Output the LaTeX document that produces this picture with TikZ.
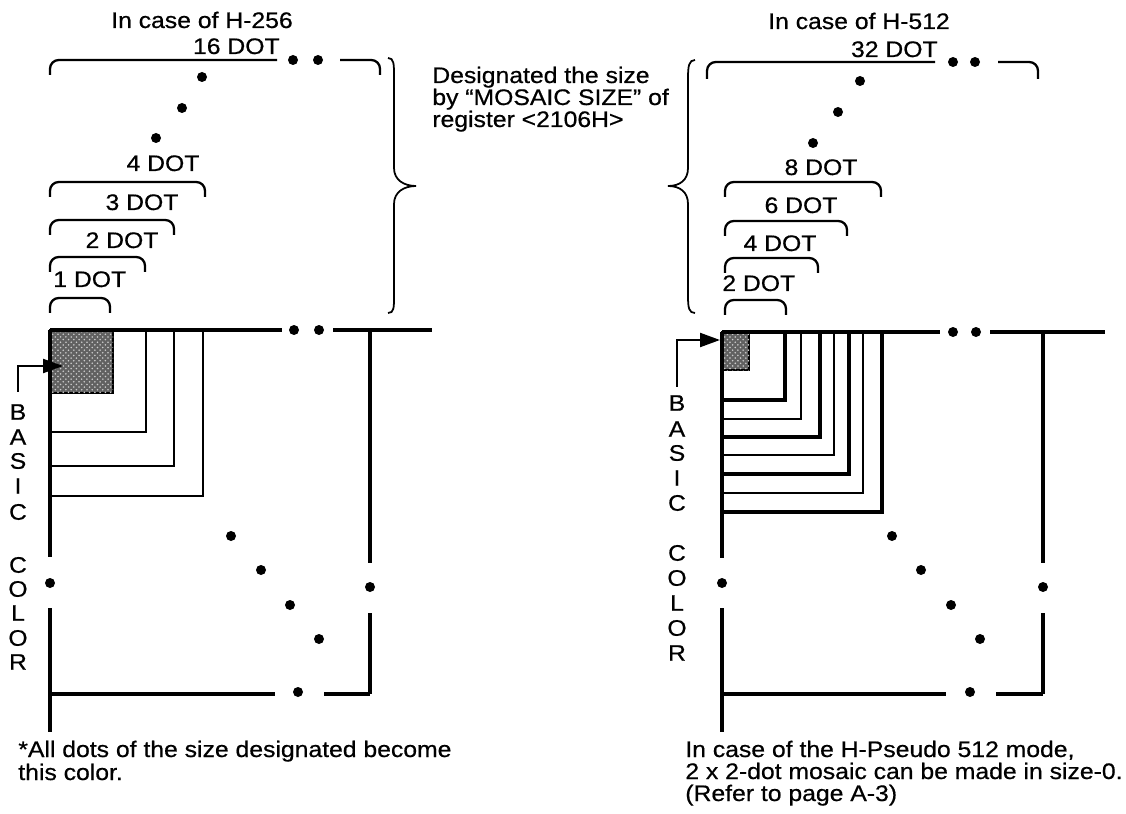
\documentclass[tikz,border=0pt]{standalone}
\usepackage{fontspec}
\setmainfont{Liberation Sans}[FakeStretch=1.1,FakeBold=0.6]
\usetikzlibrary{arrows.meta,calc,patterns}
\begin{document}
\begin{tikzpicture}[x=0.02cm,y=-0.02cm,
  main/.style={line width=2.1pt},
  thickl/.style={line width=1.8pt},
  thinl/.style={line width=1.2pt},
  brk/.style={line width=1.3pt, rounded corners=5pt},
  brc/.style={line width=1.0pt},
  lbl/.style={inner sep=0pt, font=\fontsize{12.8}{12.8}\selectfont},
  vlet/.style={inner sep=0pt, anchor=center, font=\fontsize{12.8}{12.8}\selectfont},
  arr/.style={line width=1.3pt, -{Triangle[length=0.4cm,width=0.28cm]}},
  shade/.style={fill=black!62, line width=1.3pt}]
\useasboundingbox (0,0) rectangle (1126,814);

% ================= LEFT PANEL =================
\node[lbl, anchor=base] (tL) at (202,28) {In case of H-256};
\node[lbl, anchor=base east] (d16) at (280,54) {16 DOT};
\node[lbl, anchor=base] (d4) at (163,171) {4 DOT};
\node[lbl, anchor=base] (d3) at (142,210) {3 DOT};
\node[lbl, anchor=base] (d2) at (122,248) {2 DOT};
\node[lbl, anchor=base west] (d1) at (53,287) {1 DOT};

% brackets
\draw[brk] (50,75) -- (50,60) -- (277,60);
\draw[brk] (340,60) -- (380,60) -- (380,75);
\fill (293,60) circle[radius=5];
\fill (318,60) circle[radius=5];
\fill (202,77) circle[radius=5];
\fill (182,108) circle[radius=5];
\fill (156,138) circle[radius=5];
\draw[brk] (50,197) -- (50,182) -- (205,182) -- (205,197);
\draw[brk] (50,235) -- (50,220) -- (174,220) -- (174,235);
\draw[brk] (50,272) -- (50,257) -- (145,257) -- (145,272);
\draw[brk] (50,313) -- (50,298) -- (110,298) -- (110,313);

% brace pointing right
\draw[brc] (388,58) .. controls (394,58) and (394,64) .. (394,76) -- (394,168)
  .. controls (394,180) and (404,186) .. (416,186)
  .. controls (404,186) and (394,192) .. (394,204) -- (394,296)
  .. controls (394,308) and (394,313) .. (388,313);

% grid
\filldraw[shade] (50,330) rectangle (113,393);
\fill[pattern=crosshatch dots, pattern color=white!80!black] (50,330) rectangle (113,393);
\draw[thinl] (146,330) -- (146,432) -- (50,432);
\draw[thinl] (174,330) -- (174,466) -- (50,466);
\draw[thinl] (203,330) -- (203,496) -- (50,496);
\draw[main] (50,330) -- (282,330);
\draw[main] (333,330) -- (432,330);
\fill (294,330) circle[radius=5];
\fill (319,330) circle[radius=5];
\draw[main] (50,330) -- (50,557);
\fill (50,583) circle[radius=5];
\draw[main] (50,608) -- (50,732);
\draw[main] (370,330) -- (370,563);
\fill (370,587) circle[radius=5];
\draw[main] (370,613) -- (370,694);
\draw[main] (50,694) -- (275,694);
\fill (298,692) circle[radius=5];
\draw[main] (324,694) -- (370,694);
\fill (231,536) circle[radius=5];
\fill (261,570) circle[radius=5];
\fill (290,605) circle[radius=5];
\fill (319,639) circle[radius=5];

% vertical label
\node[vlet] (lB) at (18,412) {B};
\node[vlet] (lA) at (18,437) {A};
\node[vlet] (lS) at (18,461) {S};
\node[vlet] (lI) at (18,486) {I};
\node[vlet] (lC) at (18,512) {C};
\node[vlet] (lC2) at (18,565) {C};
\node[vlet] (lO) at (18,589) {O};
\node[vlet] (lL) at (18,613) {L};
\node[vlet] (lO2) at (18,638) {O};
\node[vlet] (lR) at (18,662) {R};
\coordinate (sqL) at (63,366);
\draw[arr] ($(lB.north)+(0,-12)$) |- (sqL);

\node[lbl, anchor=base west] (nl1) at (18,757) {*All dots of the size designated become};
\node[lbl, anchor=base west] (nl2) at (18,780) {this color.};

% ================= MIDDLE TEXT =================
\node[lbl, anchor=base west] (m1) at (432,83) {Designated the size};
\node[lbl, anchor=base west] (m2) at (432,105) {by “MOSAIC SIZE” of};
\node[lbl, anchor=base west] (m3) at (432,127) {register <2106H>};

% brace pointing left
\draw[brc] (695,60) .. controls (689,60) and (688,66) .. (688,78) -- (688,168)
  .. controls (688,180) and (680,186) .. (668,186)
  .. controls (680,186) and (688,192) .. (688,204) -- (688,296)
  .. controls (688,308) and (689,313) .. (695,313);

% ================= RIGHT PANEL =================
\node[lbl, anchor=base] (tR) at (859,29) {In case of H-512};
\node[lbl, anchor=base east] (d32) at (938,57) {32 DOT};
\node[lbl, anchor=base] (d8) at (821,175) {8 DOT};
\node[lbl, anchor=base] (d6) at (801,213) {6 DOT};
\node[lbl, anchor=base] (d4r) at (780,251) {4 DOT};
\node[lbl, anchor=base west] (d2r) at (722,291) {2 DOT};

\draw[brk] (707,79) -- (707,62) -- (935,62);
\draw[brk] (998,62) -- (1038,62) -- (1038,79);
\fill (953,62) circle[radius=5];
\fill (975,62) circle[radius=5];
\fill (860,81) circle[radius=5];
\fill (838,112) circle[radius=5];
\fill (813,143) circle[radius=5];
\draw[brk] (725,197) -- (725,182) -- (881,182) -- (881,197);
\draw[brk] (725,236) -- (725,221) -- (847,221) -- (847,236);
\draw[brk] (725,273) -- (725,258) -- (818,258) -- (818,273);
\draw[brk] (725,315) -- (725,300) -- (786,300) -- (786,315);

\filldraw[shade] (722,332) rectangle (749,370);
\fill[pattern=crosshatch dots, pattern color=white!80!black] (722,332) rectangle (749,370);
\draw[thickl] (785,332) -- (785,400) -- (722,400);
\draw[thinl]  (801,332) -- (801,419) -- (722,419);
\draw[thickl] (820,332) -- (820,437) -- (722,437);
\draw[thinl]  (834,332) -- (834,455) -- (722,455);
\draw[thickl] (849,332) -- (849,474) -- (722,474);
\draw[thinl]  (863,332) -- (863,493) -- (722,493);
\draw[thickl] (882,332) -- (882,512) -- (722,512);
\draw[main] (722,332) -- (940,332);
\draw[main] (990,332) -- (1105,332);
\fill (953,332) circle[radius=5];
\fill (976,332) circle[radius=5];
\draw[main] (722,332) -- (722,558);
\fill (722,583) circle[radius=5];
\draw[main] (722,608) -- (722,732);
\draw[main] (1043,332) -- (1043,563);
\fill (1043,587) circle[radius=5];
\draw[main] (1043,613) -- (1043,694);
\draw[main] (722,694) -- (946,694);
\fill (970,692) circle[radius=5];
\draw[main] (996,694) -- (1043,694);
\fill (892,536) circle[radius=5];
\fill (921,570) circle[radius=5];
\fill (951,605) circle[radius=5];
\fill (980,639) circle[radius=5];

\node[vlet] (rB) at (677,403) {B};
\node[vlet] (rA) at (677,429) {A};
\node[vlet] (rS) at (677,453) {S};
\node[vlet] (rI) at (677,478) {I};
\node[vlet] (rC) at (677,503) {C};
\node[vlet] (rC2) at (677,553) {C};
\node[vlet] (rO) at (677,578) {O};
\node[vlet] (rL) at (677,603) {L};
\node[vlet] (rO2) at (677,628) {O};
\node[vlet] (rR) at (677,653) {R};
\coordinate (sqR) at (720,340);
\draw[arr] ($(rB.north)+(0,-8)$) |- (sqR);

\node[lbl, anchor=base west] (nr1) at (685,757) {In case of the H-Pseudo 512 mode,};
\node[lbl, anchor=base west] (nr2) at (685,779) {2 x 2-dot mosaic can be made in size-0.};
\node[lbl, anchor=base west] (nr3) at (685,801) {(Refer to page A-3)};
\end{tikzpicture}
\end{document}
